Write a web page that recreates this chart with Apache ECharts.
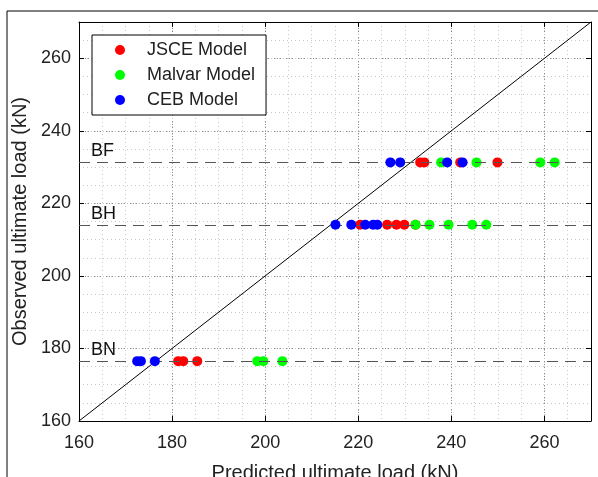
<!DOCTYPE html>
<html>
<head>
<meta charset="utf-8">
<script src="https://cdn.jsdelivr.net/npm/echarts@6/dist/echarts.min.js"></script>
<style>
  html, body { margin: 0; padding: 0; background: #fff; }
  #main { width: 598px; height: 477px; }
</style>
</head>
<body>
<div id="main"></div>
<script>
// beams and their observed ultimate loads (kN)
const beamNames = ['BF', 'BH', 'BN']
const observedLoad = [231.3, 214.1, 176.5]

// predicted ultimate loads (kN), one list per beam (same order as beamNames)
const jscePredicted = [
  [233.3, 234.2, 241.9, 249.9],
  [220.4, 226.2, 228.2, 229.9, 232.3],
  [181.3, 182.4, 185.4]
]
const malvarPredicted = [
  [237.8, 245.4, 259.1, 262.2],
  [232.3, 235.3, 239.4, 244.5, 247.5],
  [198.3, 199.6, 203.7]
]
const cebPredicted = [
  [226.9, 229.0, 239.1, 242.4],
  [215.1, 218.5, 221.5, 223.2, 224.1],
  [172.5, 173.3, 176.3]
]

const axisMin = 160
const axisMax = 270
const font = 'Liberation Sans, Arial, sans-serif'

// turn per-beam lists into [x, y] points
function toPoints (predicted) {
  const pts = []
  predicted.forEach((list, i) => {
    list.forEach(x => pts.push([x, observedLoad[i]]))
  })
  return pts
}

const chart = echarts.init(document.getElementById('main'))

const mainAxis = {
  type: 'value',
  min: axisMin,
  max: axisMax,
  interval: 20,
  axisLine: { show: true, lineStyle: { color: '#000', width: 1 } },
  axisTick: { show: true, inside: true, length: 5, lineStyle: { color: '#000' } },
  axisLabel: { color: '#222', fontSize: 18, fontFamily: font, showMaxLabel: false },
  splitLine: { show: true, lineStyle: { color: '#8c8c8c', type: [1, 2] } }
}
const sideAxis = {
  type: 'value',
  min: axisMin,
  max: axisMax,
  interval: 20,
  axisLine: { show: true, lineStyle: { color: '#000', width: 1 } },
  axisTick: { show: true, inside: true, length: 5, lineStyle: { color: '#000' } },
  axisLabel: { show: false },
  splitLine: { show: false }
}
const minorAxis = {
  type: 'value',
  min: axisMin,
  max: axisMax,
  interval: 5,
  axisLine: { show: false },
  axisTick: { show: false },
  axisLabel: { show: false },
  splitLine: { show: true, lineStyle: { color: '#c8c8c8', type: [1, 3] } }
}

const option = {
  animation: false,
  backgroundColor: '#fff',
  textStyle: { fontFamily: font },
  graphic: [
    {
      // outer figure frame
      type: 'rect',
      silent: true,
      shape: { x: 7, y: 11, width: 620, height: 500 },
      style: { fill: 'none', stroke: '#000', lineWidth: 1 }
    }
  ],
  grid: { left: 79, right: 7, top: 22, bottom: 56, outerBoundsMode: 'none' },
  legend: {
    data: ['JSCE Model', 'Malvar Model', 'CEB Model'],
    orient: 'vertical',
    left: 92,
    top: 35,
    padding: [6, 11, 6, 23],
    itemGap: 7,
    itemWidth: 10,
    itemHeight: 10,
    icon: 'circle',
    borderColor: '#000',
    borderWidth: 1,
    backgroundColor: '#fff',
    textStyle: { fontSize: 18, color: '#222', fontFamily: font, padding: [0, 0, 0, 17] }
  },
  xAxis: [
    Object.assign({}, mainAxis, {
      position: 'bottom',
      name: 'Predicted ultimate load (kN)',
      nameLocation: 'middle',
      nameGap: 42,
      nameTextStyle: { fontSize: 20, color: '#222', fontFamily: font },
      axisLabel: Object.assign({}, mainAxis.axisLabel, { margin: 13 })
    }),
    Object.assign({}, sideAxis, { position: 'top' }),
    Object.assign({}, minorAxis, { position: 'bottom' })
  ],
  yAxis: [
    Object.assign({}, mainAxis, {
      position: 'left',
      name: 'Observed ultimate load (kN)',
      nameLocation: 'middle',
      nameGap: 42,
      nameTextStyle: { fontSize: 20, color: '#222', fontFamily: font },
      axisLabel: Object.assign({}, mainAxis.axisLabel, { margin: 8 })
    }),
    Object.assign({}, sideAxis, { position: 'right' }),
    Object.assign({}, minorAxis, { position: 'left' })
  ],
  series: [
    {
      name: 'equality',
      type: 'line',
      silent: true,
      symbol: 'none',
      data: [[axisMin, axisMin], [axisMax, axisMax]],
      lineStyle: { color: '#000', width: 1 },
      z: 1,
      markLine: {
        silent: true,
        symbol: 'none',
        lineStyle: { color: '#555', width: 1, type: [11, 7] },
        label: {
          show: true,
          position: 'insideStartTop',
          distance: [12, 2],
          formatter: p => p.name,
          fontSize: 18,
          color: '#111',
          fontFamily: font
        },
        data: beamNames.map((name, i) => ({ name: name, yAxis: observedLoad[i] }))
      }
    },
    {
      name: 'JSCE Model',
      type: 'scatter',
      symbolSize: 10,
      itemStyle: { color: '#ff0000', opacity: 1 },
      data: toPoints(jscePredicted),
      z: 3
    },
    {
      name: 'Malvar Model',
      type: 'scatter',
      symbolSize: 10,
      itemStyle: { color: '#00ff00', opacity: 1 },
      data: toPoints(malvarPredicted),
      z: 4
    },
    {
      name: 'CEB Model',
      type: 'scatter',
      symbolSize: 10,
      itemStyle: { color: '#0000ff', opacity: 1 },
      data: toPoints(cebPredicted),
      z: 5
    }
  ]
}

chart.setOption(option)
</script>
</body>
</html>
